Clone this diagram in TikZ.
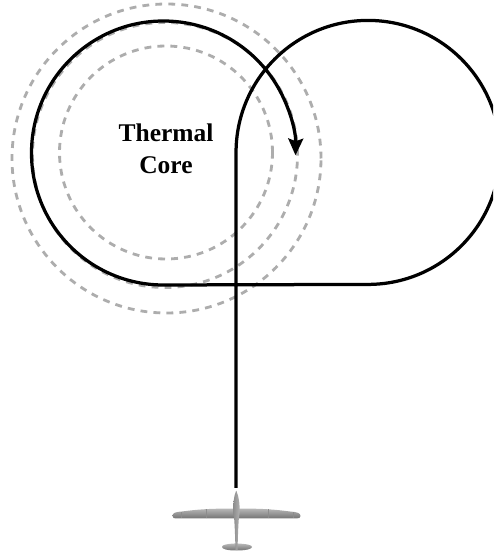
\documentclass[tikz,border=0pt]{standalone}
\usepackage{fontspec}
\setmainfont{Liberation Serif}
\usepackage{tikz}
\usetikzlibrary{arrows.meta}

\begin{document}
\begin{tikzpicture}[
    scale=0.02,
    ring/.style={draw=black!32, line width=1.6pt, dash pattern=on 3.9pt off 3.5pt},
    track/.style={draw=black, line width=1.85pt},
    glider/.style={draw=none, top color=black!28, bottom color=black!55},
    seam/.style={draw=black!45, line width=0.25pt},
    label/.style={font=\fontsize{14.5}{18.2}\selectfont\bfseries, text=black, align=center}
]
\useasboundingbox (0,0) rectangle (493,557);
\clip (0,0) rectangle (493,557);

% Thermal rings
\draw[ring] (166.5,398.5) circle (154.5);
\draw[ring] (165,402) circle (132.5);
\draw[ring] (166,404.5) circle (106.5);

% Flight path
\coordinate (entry) at (236,69);
\coordinate (turn) at (236,404.5);
\draw[track, -{Stealth[length=9.5pt, width=8.5pt, inset=1.5pt]}] (entry) -- (turn)
    arc[start angle=180, end angle=-90, radius=132]
    -- (163.5,272)
    arc[start angle=270, end angle=-1, radius=132];

\node[label] (core) at (166,408) {Thermal\\Core};

% Glider
\path[glider] (172.5,41) .. controls (172.5,44) and (175,45) .. (182,45.5)
    .. controls (200,48) and (215,48.5) .. (236,48.5)
    .. controls (257,48.5) and (272,48) .. (290,45.5)
    .. controls (297,45) and (300.5,44) .. (300.5,41)
    .. controls (300.5,39) and (299,38.5) .. (296,38.5)
    -- (176,38.5) .. controls (174,38.5) and (172.5,39) .. (172.5,41) -- cycle;
\draw[seam] (206,38.5) -- (206,47.5) (268,38.5) -- (268,47.5) (181,39) -- (181,45) (293,39) -- (293,45);
\path[glider] (222,10) .. controls (222,12) and (226,13) .. (234,13.5)
    -- (238,13.5) .. controls (247,13) and (252,12) .. (252,10)
    .. controls (252,8) and (246,6.5) .. (236.5,6.5)
    .. controls (227,6.5) and (222,8) .. (222,10) -- cycle;
\path[left color=black!45, right color=black!30] (236,66) .. controls (233.5,60) and (233,52) .. (233.5,44)
    .. controls (234.5,38) and (235,25) .. (235.5,7)
    -- (237.5,7) .. controls (238,25) and (238.5,38) .. (239.5,44)
    .. controls (240,52) and (239,60) .. (236.5,66) -- cycle;
\end{tikzpicture}
\end{document}
